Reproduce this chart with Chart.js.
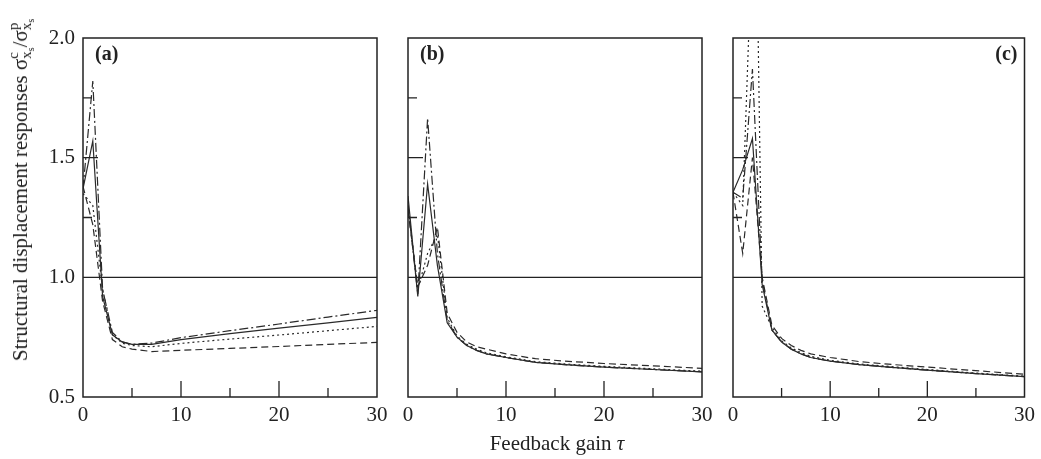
<!DOCTYPE html>
<html>
<head>
<meta charset="utf-8">
<script src="https://cdn.jsdelivr.net/npm/chart.js@4.4.1/dist/chart.umd.min.js"></script>
<style>
  body { margin: 0; background: #fff; width: 1041px; height: 459px; overflow: hidden; position: relative;
         font-family: "Liberation Serif", "DejaVu Serif", serif; color: #222; }
  canvas { position: absolute; left: 0; top: 0; }
  #ytitle { position: absolute; left: 22px; top: 190px; transform: translate(-50%, -50%) rotate(-90deg);
            white-space: nowrap; font-size: 21px; }
  #xtitle { position: absolute; left: 557px; top: 443px; transform: translate(-50%, -50%);
            white-space: nowrap; font-size: 21px; }
  .st { display: inline-flex; flex-direction: column; vertical-align: middle; font-size: 15px; line-height: 13px; }
  .st sub { font-size: 10px; vertical-align: -3px; }
</style>
</head>
<body>
<canvas id="panelA" width="1041" height="459"></canvas>
<canvas id="panelB" width="1041" height="459"></canvas>
<canvas id="panelC" width="1041" height="459"></canvas>
<div id="ytitle">Structural displacement responses σ<span class="st"><span>c</span><span>x<sub>s</sub></span></span>/σ<span class="st"><span>p</span><span>x<sub>s</sub></span></span></div>
<div id="xtitle">Feedback gain <i>τ</i></div>
<script>
// feedback gain values (x) and response ratios (y)
const tauA = [0, 1, 2, 3, 4, 5, 7, 10, 15, 20, 25, 30];
const aSolid   = [1.37, 1.57, 0.92, 0.76, 0.73, 0.72, 0.72, 0.74, 0.765, 0.788, 0.81, 0.833];
const aDashDot = [1.37, 1.82, 0.95, 0.77, 0.73, 0.72, 0.725, 0.748, 0.777, 0.805, 0.834, 0.862];
const aDotted  = [1.35, 1.30, 0.95, 0.76, 0.725, 0.715, 0.71, 0.724, 0.742, 0.759, 0.777, 0.795];
const aDashed  = [1.38, 1.22, 0.90, 0.74, 0.71, 0.70, 0.69, 0.695, 0.703, 0.711, 0.72, 0.728];

const tauB = [0, 1, 2, 3, 4, 5, 6, 7, 8, 10, 13, 16, 20, 25, 30];
const bSolid   = [1.34, 0.92, 1.39, 1.05, 0.81, 0.75, 0.715, 0.695, 0.68, 0.665, 0.645, 0.635, 0.625, 0.615, 0.605];
const bDashDot = [1.30, 0.93, 1.665, 1.10, 0.82, 0.75, 0.715, 0.695, 0.68, 0.665, 0.645, 0.635, 0.625, 0.615, 0.605];
const bDotted  = [1.30, 0.95, 1.10, 1.18, 0.83, 0.755, 0.72, 0.70, 0.685, 0.668, 0.648, 0.638, 0.628, 0.618, 0.608];
const bDashed  = [1.28, 0.96, 1.05, 1.21, 0.85, 0.77, 0.73, 0.71, 0.70, 0.68, 0.66, 0.65, 0.64, 0.63, 0.62];

const tauC = [0, 1, 2, 3, 4, 5, 6, 7, 8, 10, 13, 16, 20, 25, 30];
const tauCDotted = [0, 1, 2.3, 3, 4, 5, 6, 7, 8, 10, 13, 16, 20, 25, 30];
const cSolid   = [1.355, 1.45, 1.58, 0.97, 0.78, 0.73, 0.70, 0.68, 0.665, 0.65, 0.635, 0.625, 0.612, 0.598, 0.585];
const cDashDot = [1.355, 1.33, 1.87, 0.99, 0.78, 0.73, 0.70, 0.68, 0.665, 0.65, 0.635, 0.625, 0.612, 0.598, 0.585];
const cDotted  = [1.355, 1.30, 2.8, 0.88, 0.79, 0.735, 0.705, 0.685, 0.67, 0.653, 0.638, 0.628, 0.615, 0.60, 0.587];
const cDashed  = [1.355, 1.10, 1.50, 1.00, 0.80, 0.745, 0.715, 0.695, 0.68, 0.665, 0.648, 0.637, 0.625, 0.61, 0.595];

const xTickLabels = [0, 10, 20, 30];
const yTickLabels = [0.5, 1.0, 1.5, 2.0];

const FONT = '"Liberation Serif", "DejaVu Serif", serif';
const INK = '#222';

function pts(xs, ys) {
    return xs.map((x, i) => ({ x: x, y: ys[i] }));
}

// frame, inward tick marks, the 1.0 reference line and the panel letter
const framePlugin = {
    id: 'frame',
    afterDatasetsDraw(chart, args, opts) {
        const { ctx, chartArea: a, scales: { x, y } } = chart;
        ctx.save();
        ctx.strokeStyle = INK;
        ctx.lineWidth = 1.5;
        ctx.strokeRect(a.left, a.top, a.right - a.left, a.bottom - a.top);
        ctx.lineWidth = 1.3;
        const y1 = y.getPixelForValue(1.0);
        ctx.beginPath();
        ctx.moveTo(a.left, y1); ctx.lineTo(a.right, y1);
        [5, 10, 15, 20, 25].forEach(v => {
            const px = x.getPixelForValue(v);
            const len = v % 10 === 0 ? 16 : 9;
            ctx.moveTo(px, a.bottom); ctx.lineTo(px, a.bottom - len);
        });
        [1.25, 1.5, 1.75].forEach(v => {
            const py = y.getPixelForValue(v);
            const len = v === 1.5 ? 15 : 9;
            ctx.moveTo(a.left, py); ctx.lineTo(a.left + len, py);
        });
        ctx.stroke();
        ctx.fillStyle = INK;
        ctx.font = 'bold 20px ' + FONT;
        ctx.textBaseline = 'middle';
        if (opts.right) {
            ctx.textAlign = 'right';
            ctx.fillText(opts.label, a.right - 7, a.top + 17);
        } else {
            ctx.textAlign = 'left';
            ctx.fillText(opts.label, a.left + 12, a.top + 17);
        }
        ctx.restore();
    }
};

function line(data, dash) {
    return { data: data, borderColor: '#2a2a2a', borderWidth: 1.2, borderDash: dash, pointRadius: 0, fill: false, tension: 0 };
}

function makePanel(id, left, right, showY, label, labelRight, series) {
    const ctx = document.getElementById(id).getContext('2d');
    new Chart(ctx, {
        type: 'line',
        data: {
            datasets: [
                line(series[0], []),
                line(series[1], [9, 3, 2, 3]),
                line(series[2], [2, 3]),
                line(series[3], [7, 4])
            ]
        },
        options: {
            responsive: false,
            animation: false,
            layout: { padding: { left: 0, right: 1041 - right, top: 38, bottom: 0 } },
            plugins: {
                legend: { display: false },
                tooltip: { enabled: false },
                frame: { label: label, right: labelRight }
            },
            scales: {
                x: {
                    type: 'linear', min: 0, max: 30,
                    grid: { display: false, drawTicks: false },
                    border: { display: false },
                    afterBuildTicks(s) { s.ticks = xTickLabels.map(v => ({ value: v })); },
                    ticks: { color: INK, padding: 6, maxRotation: 0, font: { family: FONT, size: 21 } },
                    afterFit(s) { s.height = 62; }
                },
                y: {
                    min: 0.5, max: 2.0,
                    grid: { display: false, drawTicks: false },
                    border: { display: false },
                    afterBuildTicks(s) { s.ticks = yTickLabels.map(v => ({ value: v })); },
                    ticks: { display: showY, color: INK, padding: 8, font: { family: FONT, size: 21 },
                             callback: v => Number(v).toFixed(1) },
                    afterFit(s) { s.width = left; }
                }
            }
        },
        plugins: [framePlugin]
    });
}

makePanel('panelA', 83, 377, true, '(a)', false,
    [pts(tauA, aSolid), pts(tauA, aDashDot), pts(tauA, aDotted), pts(tauA, aDashed)]);
makePanel('panelB', 408, 702, false, '(b)', false,
    [pts(tauB, bSolid), pts(tauB, bDashDot), pts(tauB, bDotted), pts(tauB, bDashed)]);
makePanel('panelC', 733, 1026, false, '(c)', true,
    [pts(tauC, cSolid), pts(tauC, cDashDot), pts(tauCDotted, cDotted), pts(tauC, cDashed)]);
</script>
</body>
</html>
